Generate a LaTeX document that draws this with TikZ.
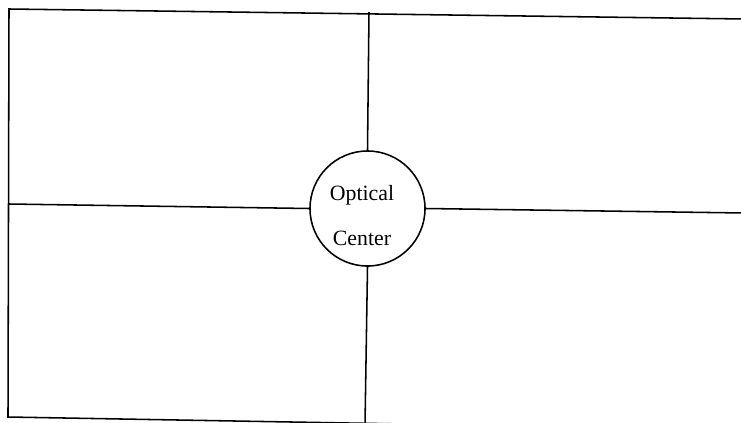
\documentclass[tikz,border=0pt]{standalone}
\usepackage{fontspec}
\setmainfont{Liberation Serif}
\usetikzlibrary{calc}

\begin{document}
\begin{tikzpicture}[x=0.025cm,y=-0.025cm,line width=1.1pt]
\useasboundingbox (0,0) rectangle (741,422);

%The frame:
\coordinate (F1) at (9,9);
\coordinate (F2) at (745,19);
\coordinate (F3) at (745,430);
\coordinate (F4) at (8,417);
\draw (F2) -- (F1) -- (F4) -- (F3);

%The optical center:
\node[circle,draw,minimum size=2.875cm,inner sep=0pt] (oc) at (367.5,208.5) {};
\node[anchor=base] (optical) at (362,200) {\fontsize{15.5}{18}\selectfont Optical};
\node[anchor=base] (center) at (362,245) {\fontsize{15.5}{18}\selectfont Center};

%The cross:
\coordinate (H1) at (9,204);
\coordinate (H2) at (745,213);
\coordinate (V1) at (369,12);
\coordinate (V2) at (365,425);
\draw (H1) -- (oc.west);
\draw (oc.east) -- (H2);
\draw (V1) -- (oc.north);
\draw (oc.south) -- (V2);
\end{tikzpicture}
\end{document}
